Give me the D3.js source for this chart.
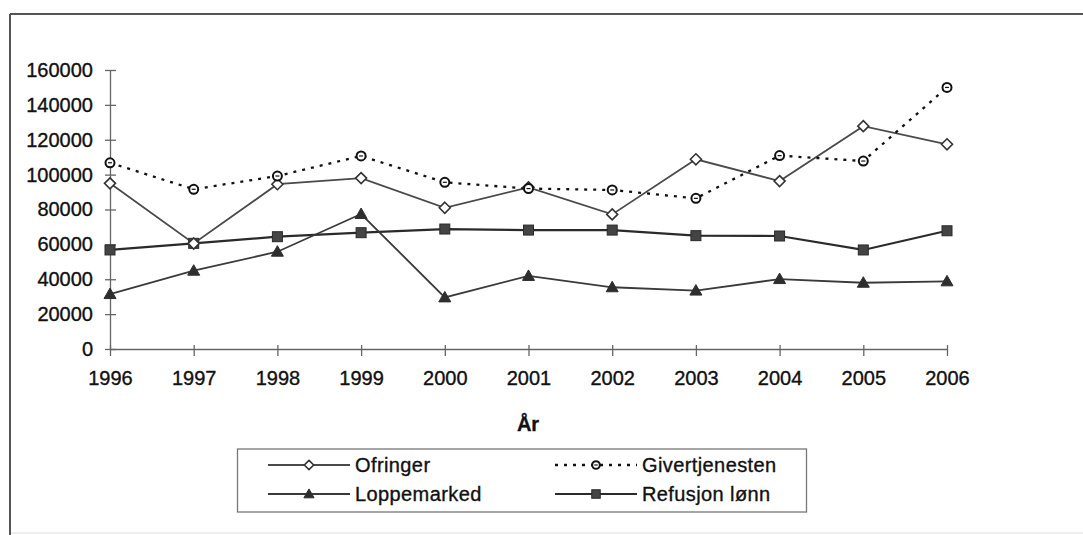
<!DOCTYPE html>
<html>
<head>
<meta charset="utf-8">
<script src="https://cdn.jsdelivr.net/npm/d3@7"></script>
<style>
  html, body { margin: 0; padding: 0; background: #fff; }
  svg { display: block; font-family: "Liberation Sans", Arial, sans-serif; }
  svg text { stroke: #111; stroke-width: 0.35px; }
</style>
</head>
<body>
<svg id="chart" width="1083" height="535"></svg>
<script>
const years = [1996, 1997, 1998, 1999, 2000, 2001, 2002, 2003, 2004, 2005, 2006];
const yTicks = [0, 20000, 40000, 60000, 80000, 100000, 120000, 140000, 160000];
const ofringer = [95000, 60500, 94500, 98000, 81000, 92700, 77200, 108800, 96300, 127800, 117400];
const givertjenesten = [106800, 91600, 99200, 110700, 95600, 92000, 91200, 86400, 110900, 107800, 150000];
const loppemarked = [31500, 44900, 55800, 77400, 29600, 41900, 35400, 33500, 40100, 38000, 38800];
const refusjon = [56800, 60600, 64400, 66700, 68800, 68200, 68200, 65000, 64800, 56800, 67800];
const seriesNames = ["Ofringer", "Givertjenesten", "Loppemarked", "Refusjon lønn"];
const xTitle = "År";

const svg = d3.select("#chart");
const W = 1083, H = 535;

// outer frame
svg.append("rect").attr("x", 10).attr("y", 14).attr("width", 1100).attr("height", 519)
  .attr("fill", "none").attr("stroke", "#ddd").attr("stroke-width", 1);
svg.append("line").attr("x1", 10).attr("y1", 14).attr("x2", W).attr("y2", 14)
  .attr("stroke", "#555").attr("stroke-width", 2);
svg.append("line").attr("x1", 10).attr("y1", 14).attr("x2", 10).attr("y2", H)
  .attr("stroke", "#555").attr("stroke-width", 2);

const x = d3.scalePoint().domain(years).range([110, 947]);
const y = d3.scaleLinear().domain([0, 160000]).range([349, 70]);

const axisColor = "#666";

// Y axis
const yAxis = svg.append("g").attr("transform", "translate(110,0)")
  .call(d3.axisLeft(y).tickValues(yTicks).tickSize(0).tickPadding(17).tickFormat(d3.format("d")));
yAxis.select(".domain").attr("stroke", axisColor).attr("stroke-width", 1.3);
yAxis.selectAll(".tick text").attr("font-size", 20).attr("fill", "#111");
yAxis.selectAll(".tick").append("line").attr("x1", -5).attr("x2", 6)
  .attr("stroke", axisColor).attr("stroke-width", 1.3);

// X axis
const xAxis = svg.append("g").attr("transform", "translate(0,349)")
  .call(d3.axisBottom(x).tickSize(0).tickPadding(22).tickFormat(d3.format("d")));
xAxis.select(".domain").attr("stroke", axisColor).attr("stroke-width", 1.3);
xAxis.selectAll(".tick text").attr("font-size", 20).attr("fill", "#111");
xAxis.selectAll(".tick").append("line").attr("y1", -4).attr("y2", 7)
  .attr("stroke", axisColor).attr("stroke-width", 1.3);

svg.append("text").attr("x", 528).attr("y", 431).attr("text-anchor", "middle")
  .attr("font-size", 20).attr("font-weight", "bold").attr("fill", "#111").text(xTitle);

const line = d3.line().x((d, i) => x(years[i])).y(d => y(d));

const styles = [
  { data: ofringer, stroke: "#4a4a4a", width: 1.8, dash: null, marker: "diamond" },
  { data: givertjenesten, stroke: "#111", width: 2.3, dash: "3,6", marker: "circle" },
  { data: loppemarked, stroke: "#3a3a3a", width: 1.8, dash: null, marker: "triangle" },
  { data: refusjon, stroke: "#2a2a2a", width: 2.2, dash: null, marker: "square" }
];

function drawMarker(g, type, cx, cy, scale) {
  const s = scale || 1;
  if (type === "diamond") {
    const r = 5.5 * s;
    g.append("path").attr("d", `M${cx},${cy - r}L${cx + r},${cy}L${cx},${cy + r}L${cx - r},${cy}Z`)
      .attr("fill", "#fff").attr("stroke", "#333").attr("stroke-width", 1.6);
  } else if (type === "circle") {
    g.append("circle").attr("cx", cx).attr("cy", cy).attr("r", 4.5 * s)
      .attr("fill", "#fff").attr("stroke", "#111").attr("stroke-width", 2);
    g.append("line").attr("x1", cx - 2 * s).attr("x2", cx + 2 * s).attr("y1", cy).attr("y2", cy)
      .attr("stroke", "#111").attr("stroke-width", 1.2);
  } else if (type === "triangle") {
    const r = 6 * s;
    g.append("path").attr("d", `M${cx},${cy - r}L${cx + r},${cy + r * 0.75}L${cx - r},${cy + r * 0.75}Z`)
      .attr("fill", "#2e2e2e").attr("stroke", "#2e2e2e").attr("stroke-width", 1);
  } else if (type === "square") {
    const r = 5 * s;
    g.append("rect").attr("x", cx - r).attr("y", cy - r).attr("width", 2 * r).attr("height", 2 * r)
      .attr("fill", "#444").attr("stroke", "#2a2a2a").attr("stroke-width", 1);
  }
}

// draw lines (order: refusjon, loppemarked, ofringer, givertjenesten)
const drawOrder = [3, 2, 0, 1];
drawOrder.forEach(k => {
  const st = styles[k];
  svg.append("path").datum(st.data).attr("d", line)
    .attr("fill", "none").attr("stroke", st.stroke).attr("stroke-width", st.width)
    .attr("stroke-dasharray", st.dash);
});
drawOrder.forEach(k => {
  const st = styles[k];
  const g = svg.append("g");
  st.data.forEach((v, i) => drawMarker(g, st.marker, x(years[i]), y(v)));
});

// legend
const lg = svg.append("g");
lg.append("rect").attr("x", 237.5).attr("y", 449).attr("width", 569).attr("height", 63)
  .attr("fill", "#fff").attr("stroke", "#777").attr("stroke-width", 1.3);
const legendPos = [
  { k: 0, x1: 268, x2: 350, tx: 355, cy: 465 },
  { k: 1, x1: 555, x2: 637, tx: 642, cy: 465 },
  { k: 2, x1: 268, x2: 350, tx: 355, cy: 494 },
  { k: 3, x1: 555, x2: 637, tx: 642, cy: 494 }
];
legendPos.forEach(p => {
  const st = styles[p.k];
  lg.append("line").attr("x1", p.x1).attr("x2", p.x2).attr("y1", p.cy).attr("y2", p.cy)
    .attr("stroke", st.stroke).attr("stroke-width", st.width).attr("stroke-dasharray", st.dash);
  drawMarker(lg, st.marker, (p.x1 + p.x2) / 2, p.cy, 0.85);
  lg.append("text").attr("x", p.tx).attr("y", p.cy + 7).attr("font-size", 20).attr("fill", "#111")
    .attr("letter-spacing", 0.4).text(seriesNames[p.k]);
});
</script>
</body>
</html>
